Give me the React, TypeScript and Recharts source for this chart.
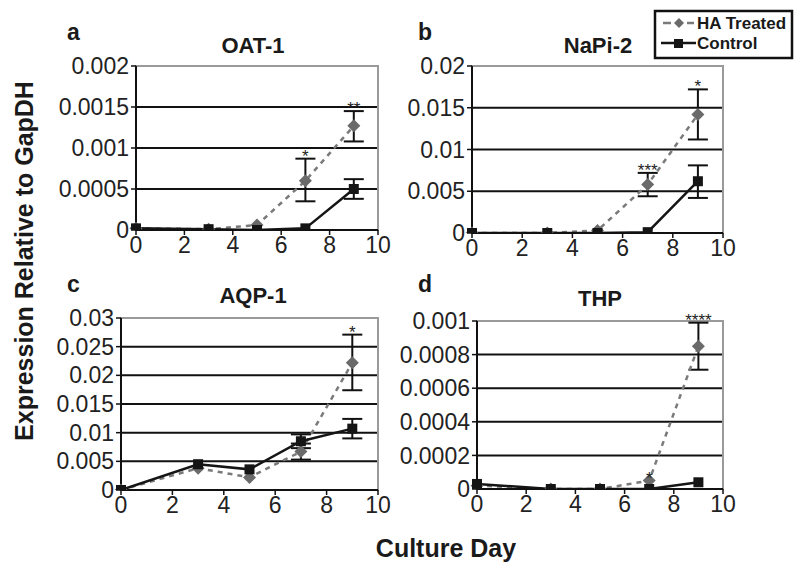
import { CartesianGrid, ErrorBar, LabelList, Line, LineChart, ReferenceArea, XAxis, YAxis } from 'recharts'

const FONT = '"Liberation Sans", Arial, Helvetica, sans-serif'

const days = [0, 3, 5, 7, 9]
const xTicks = [0, 2, 4, 6, 8, 10]

// a: OAT-1
const oatTreated = [0.00002, 0.00001, 0.00006, 0.0006, 0.00127]
const oatTreatedErr = [null, null, null, [0.00025, 0.00027], [0.00019, 0.00018]]
const oatControl = [0.00002, 0.00001, 0.0, 0.00002, 0.0005]
const oatControlErr = [null, null, null, null, [0.00012, 0.00012]]
const oatSig = ['', '', '', '*', '**']
const oatTicks = [0, 0.0005, 0.001, 0.0015, 0.002]

// b: NaPi-2
const napiTreated = [0, 0, 0.0003, 0.0058, 0.0142]
const napiTreatedErr = [null, null, null, [0.0014, 0.0014], [0.003, 0.003]]
const napiControl = [0, 0, 0, 0.0001, 0.0062]
const napiControlErr = [null, null, null, null, [0.002, 0.0019]]
const napiSig = ['', '', '', '***', '*']
const napiTicks = [0, 0.005, 0.01, 0.015, 0.02]

// c: AQP-1
const aqpTreated = [0, 0.0038, 0.0022, 0.0067, 0.0222]
const aqpTreatedErr = [null, null, null, [0.0014, 0.0014], [0.0048, 0.0049]]
const aqpControl = [0, 0.0045, 0.0036, 0.0085, 0.0107]
const aqpControlErr = [null, null, null, [0.0012, 0.0012], [0.0017, 0.0017]]
const aqpSig = ['', '', '', '', '*']
const aqpTicks = [0, 0.005, 0.01, 0.015, 0.02, 0.025, 0.03]

// d: THP
const thpTreated = [0.00002, 0, 0, 0.00005, 0.00085]
const thpTreatedErr = [null, null, null, null, [0.00014, 0.00014]]
const thpControl = [0.00003, 0, 0, 0, 0.00004]
const thpControlErr = [null, null, null, null, null]
const thpSig = ['', '', '', '*', '****']
const thpTicks = [0, 0.0002, 0.0004, 0.0006, 0.0008, 0.001]

function diamondDot(props: any) {
  const { cx, cy, index } = props
  if (cx == null || cy == null) return <g key={`d${index}`} />
  const r = 6.5
  return (
    <polygon
      key={`d${index}`}
      points={`${cx},${cy - r} ${cx + r},${cy} ${cx},${cy + r} ${cx - r},${cy}`}
      fill="#6a6a6a"
    />
  )
}

function squareDot(props: any) {
  const { cx, cy, index } = props
  if (cx == null || cy == null) return <g key={`s${index}`} />
  const s = 10
  return <rect key={`s${index}`} x={cx - s / 2} y={cy - s / 2} width={s} height={s} fill="#151515" />
}

type Panel = {
  l: number
  t: number
  r: number
  b: number
  ticks: number[]
  treated: number[]
  treatedErr: (number[] | null)[]
  control: number[]
  controlErr: (number[] | null)[]
  sig: string[]
}

function PanelChart({ l, t, r, b, ticks, treated, treatedErr, control, controlErr, sig }: Panel) {
  const yw = 100
  const top = 14
  const xh = 35
  const yMax = ticks[ticks.length - 1]
  const rows = days.map((day, i) => ({
    day,
    ha: treated[i],
    haErr: treatedErr[i] ?? undefined,
    ctl: control[i],
    ctlErr: controlErr[i] ?? undefined,
    sig: sig[i] || '',
    sigY: sig[i] ? treated[i] + (treatedErr[i] ? treatedErr[i]![1] : 0) : null,
  }))
  return (
    <div style={{ position: 'absolute', left: l - yw, top: t - top }}>
      <LineChart
        width={r - l + yw + 25}
        height={b - t + top + xh}
        data={rows}
        margin={{ top, right: 25, left: 0, bottom: 0 }}
      >
        <CartesianGrid horizontal vertical={false} stroke="#111" strokeWidth={2} />
        <ReferenceArea x1={0} x2={10} y1={0} y2={yMax} fill="none" stroke="#9a9a9a" strokeWidth={2} />
        <XAxis
          dataKey="day"
          type="number"
          domain={[0, 10]}
          ticks={xTicks}
          interval={0}
          height={xh}
          tickSize={5}
          tickMargin={2}
          axisLine={{ stroke: '#111', strokeWidth: 2 }}
          tickLine={{ stroke: '#111', strokeWidth: 1.5 }}
          tick={{ fontSize: 23, fill: '#222', fontFamily: FONT }}
        />
        <YAxis
          type="number"
          domain={[0, yMax]}
          ticks={ticks}
          interval={0}
          allowDataOverflow
          width={yw}
          tickSize={5}
          tickMargin={2}
          axisLine={{ stroke: '#111', strokeWidth: 2 }}
          tickLine={{ stroke: '#111', strokeWidth: 1.5 }}
          tick={{ fontSize: 23, fill: '#222', fontFamily: FONT }}
          tickFormatter={(v) => String(v)}
        />
        <Line
          dataKey="ha"
          stroke="#7a7a7a"
          strokeWidth={2.5}
          strokeDasharray="5 5"
          dot={diamondDot}
          activeDot={false}
          isAnimationActive={false}
        >
          <ErrorBar dataKey="haErr" direction="y" width={10} stroke="#111" strokeWidth={2} />
        </Line>
        <Line
          dataKey="ctl"
          stroke="#151515"
          strokeWidth={2.5}
          dot={squareDot}
          activeDot={false}
          isAnimationActive={false}
        >
          <ErrorBar dataKey="ctlErr" direction="y" width={10} stroke="#111" strokeWidth={2} />
        </Line>
        <Line
          dataKey="sigY"
          stroke="none"
          dot={false}
          activeDot={false}
          isAnimationActive={false}
        >
          <LabelList dataKey="sig" position="top" offset={-3} fontSize={17} fill="#222" fontFamily={FONT} />
        </Line>
      </LineChart>
    </div>
  )
}

export default function App() {
  return (
    <div style={{ position: 'absolute', left: 0, top: 0, width: 800, height: 572, background: '#fff', fontFamily: FONT }}>
      <PanelChart l={136} r={378} t={66} b={230} ticks={oatTicks} treated={oatTreated} treatedErr={oatTreatedErr} control={oatControl} controlErr={oatControlErr} sig={oatSig} />
      <PanelChart l={472} r={723} t={66} b={233} ticks={napiTicks} treated={napiTreated} treatedErr={napiTreatedErr} control={napiControl} controlErr={napiControlErr} sig={napiSig} />
      <PanelChart l={121} r={378} t={318} b={490} ticks={aqpTicks} treated={aqpTreated} treatedErr={aqpTreatedErr} control={aqpControl} controlErr={aqpControlErr} sig={aqpSig} />
      <PanelChart l={477} r={723} t={321} b={489} ticks={thpTicks} treated={thpTreated} treatedErr={thpTreatedErr} control={thpControl} controlErr={thpControlErr} sig={thpSig} />
      <svg width={800} height={572} style={{ position: 'absolute', left: 0, top: 0, pointerEvents: 'none' }}>
        <g fontFamily={FONT} fontWeight="bold" fill="#1a1a1a">
          <text x={67} y={40} fontSize={23}>a</text>
          <text x={418} y={40} fontSize={23}>b</text>
          <text x={67} y={292} fontSize={23}>c</text>
          <text x={418} y={292} fontSize={23}>d</text>
          <text x={253} y={53} fontSize={22} textAnchor="middle">OAT-1</text>
          <text x={598} y={53} fontSize={22} textAnchor="middle">NaPi-2</text>
          <text x={253} y={303} fontSize={22} textAnchor="middle">AQP-1</text>
          <text x={600} y={306} fontSize={22} textAnchor="middle">THP</text>
          <text x={446} y={557} fontSize={25} textAnchor="middle">Culture Day</text>
          <text x={33} y={261} fontSize={25} textAnchor="middle" transform="rotate(-90 33 261)">
            Expression Relative to GapDH
          </text>
        </g>
        <rect x={655} y={11} width={137} height={47} fill="#fff" stroke="#111" strokeWidth={2.5} />
        <line x1={663} y1={23} x2={671} y2={23} stroke="#7a7a7a" strokeWidth={2.5} />
        <polygon points="679,18 684,23 679,28 674,23" fill="#6a6a6a" />
        <line x1={687} y1={23} x2={694} y2={23} stroke="#7a7a7a" strokeWidth={2.5} />
        <text x={697} y={29} fontSize={17} fontWeight="bold" fontFamily={FONT} fill="#1a1a1a">HA Treated</text>
        <line x1={661} y1={43} x2={696} y2={43} stroke="#151515" strokeWidth={2.5} />
        <rect x={674} y={39} width={9} height={9} fill="#151515" />
        <text x={697} y={49} fontSize={17} fontWeight="bold" fontFamily={FONT} fill="#1a1a1a">Control</text>
      </svg>
    </div>
  )
}
